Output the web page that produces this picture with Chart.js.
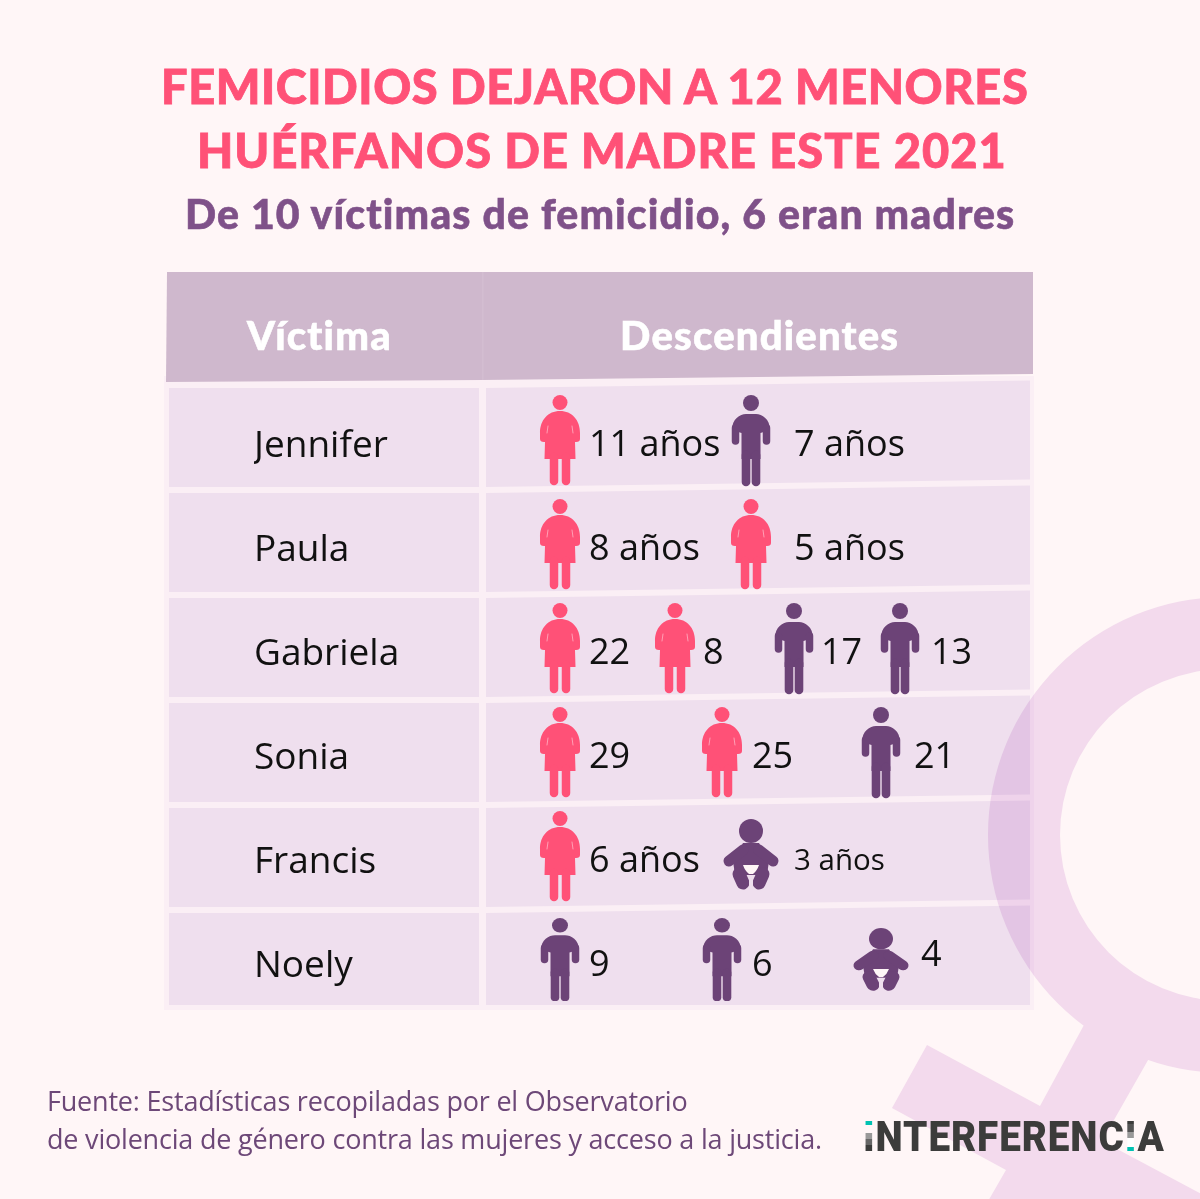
<!DOCTYPE html>
<html>
<head>
<meta charset="utf-8">
<script src="https://cdn.jsdelivr.net/npm/chart.js@4"></script>
<style>
body{margin:0;background:#fff6f7;}
#wrap{position:relative;width:1200px;height:1199px;overflow:hidden;}
canvas{position:absolute;left:0;top:0;}
.t{position:absolute;white-space:nowrap;line-height:1;}
.tit{font:900 47px Lato;color:#ff5177;-webkit-text-stroke:.8px #ff5177;}
.sub{font:900 41px Lato;color:#7f5189;left:185px;top:189px;letter-spacing:1.1px;-webkit-text-stroke:.6px #7f5189;}
.hd{font:900 40px Lato;color:#fff;top:311px;letter-spacing:1.2px;-webkit-text-stroke:.6px #fff;}
.src{font:27px "Open Sans";color:#6d4878;left:47px;letter-spacing:-.2px;}
.logo{font:900 42px Roboto;color:#3c3c3b;left:863px;top:1112px;letter-spacing:1px;transform-origin:left top;transform:scaleX(.92);}
.logo span{-webkit-background-clip:text;background-clip:text;color:transparent;}
.i1{background-image:linear-gradient(#00c2b2 0 26%,transparent 26% 42%,#999 42% 55%,#666 55% 68%,#3c3c3b 68%);}
.i2{background-image:linear-gradient(#3c3c3b 0 25%,#555 25% 40%,#999 40% 53%,#fff 53% 72%,#00c2b2 72%);}
</style>
</head>
<body>
<div id="wrap">
<canvas id="c" width="1200" height="1199"></canvas>
<div class="t tit" style="left:161px;top:58px;letter-spacing:.55px">FEMICIDIOS DEJARON A 12 MENORES</div>
<div class="t tit" style="left:197px;top:122px;letter-spacing:1px">HUÉRFANOS DE MADRE ESTE 2021</div>
<div class="t sub">De 10 víctimas de femicidio, 6 eran madres</div>
<div class="t hd" style="left:247px">Víctima</div>
<div class="t hd" style="left:620px">Descendientes</div>
<div class="t src" style="top:1082px">Fuente: Estadísticas recopiladas por el Observatorio</div>
<div class="t src" style="top:1120px">de violencia de género contra las mujeres y acceso a la justicia.</div>
<div class="t logo"><span class="i1">I</span>NTERFERENC<span class="i2">I</span>A</div>
</div>
<script>
// datos de la tabla
const victimas=['Jennifer','Paula','Gabriela','Sonia','Francis','Noely'];
const tipos=[['F','M'],['F','F'],['F','F','M','M'],['F','F','M'],['F','B'],['M','M','B']];
const edades=[[11,7],[8,5],[22,8,17,13],[29,25,21],[6,3],[9,6,4]];
const conAnos=[true,true,false,false,true,false];

// layout: separacion de columnas segun cuantos hijos hay en la fila
const slots={2:[0,191],3:[0,162,321],4:[0,115,234,340]};
const labelGap={2:[29,43],3:[29,30,33],4:[29,28,27,31]};
const ROSA='#ff5177', MORADO='#6c4377', CELDA='#efdfee', FONDO='#fff6f7';

function lienzo(w,h,sy,fn){
  const c=document.createElement('canvas'); c.width=w; c.height=h;
  const g=c.getContext('2d'); g.translate(w/2,0); g.scale(1,sy); fn(g); return c;
}
function palo(g,x1,y1,x2,y2,w){
  g.lineWidth=w; g.lineCap='round'; g.beginPath(); g.moveTo(x1,y1); g.lineTo(x2,y2); g.stroke();
}
function hija(g){
  g.fillStyle=g.strokeStyle=ROSA;
  g.beginPath(); g.arc(0,7.5,7.5,0,Math.PI*2); g.fill();
  g.beginPath(); g.moveTo(0,16);
  g.bezierCurveTo(12,16,20,25,20,38); g.lineTo(20,44); g.quadraticCurveTo(20,47,16,47); g.lineTo(15,47);
  g.lineTo(15.5,64); g.lineTo(-15.5,64); g.lineTo(-15,47); g.lineTo(-16,47);
  g.quadraticCurveTo(-20,47,-20,44); g.lineTo(-20,38); g.bezierCurveTo(-20,25,-12,16,0,16); g.fill();
  palo(g,-6,62,-6,86,8.5); palo(g,6,62,6,86,8.5);
  g.strokeStyle='#ffb3c4'; palo(g,-12,31,-13,38,.8); palo(g,12,31,13,38,.8);
}
function hijo(g){
  g.fillStyle=g.strokeStyle=MORADO;
  g.beginPath(); g.arc(0,8,8,0,Math.PI*2); g.fill();
  g.beginPath(); g.moveTo(-19,35); g.bezierCurveTo(-19,24,-11,19,-5,19); g.lineTo(5,19);
  g.bezierCurveTo(11,19,19,24,19,35); g.lineTo(9.5,38); g.lineTo(9.5,64); g.lineTo(-9.5,64); g.lineTo(-9.5,38); g.fill();
  palo(g,-15.5,33,-15.5,46,7.5); palo(g,15.5,33,15.5,46,7.5);
  palo(g,-5,60,-5,87,8.6); palo(g,5,60,5,87,8.6);
}
function bebe(g){
  g.fillStyle=g.strokeStyle=MORADO;
  g.beginPath(); g.arc(0,12,12,0,Math.PI*2); g.fill();
  g.beginPath(); g.moveTo(-8,24); g.lineTo(8,24); g.lineTo(18,42); g.lineTo(16,56); g.lineTo(-16,56); g.lineTo(-18,42); g.closePath(); g.fill();
  palo(g,-8,31,-22,42,11); palo(g,8,31,22,42,11);
  palo(g,-12,55,-8,64,13); palo(g,12,55,8,64,13);
  g.fillStyle=FONDO;
  g.beginPath(); g.moveTo(-8,46); g.lineTo(8,46); g.quadraticCurveTo(6,52,2,55); g.lineTo(-2,55); g.quadraticCurveTo(-6,52,-8,46); g.fill();
  g.fillStyle=CELDA;
  g.beginPath(); g.moveTo(-2,56); g.lineTo(2,56); g.lineTo(2,71); g.lineTo(-2,71); g.fill();
}
const iconos={
  F:lienzo(44,102,1,hija),
  M:lienzo(44,102,1,hijo),
  B:lienzo(60,86,1,bebe),
  // la ultima fila es mas baja, las figuras salen aplastadas
  Mc:lienzo(44,96,.91,hijo),
  Bc:lienzo(60,76,.89,bebe)
};
function iconoDe(t){
  return ctx=>(ctx.raw&&ctx.raw.r===5&&iconos[t+'c'])||iconos[t];
}

function puntos(tipo){
  const out=[];
  tipos.forEach((fila,r)=>fila.forEach((t,i)=>{
    if(t===tipo) out.push({x:slots[fila.length][i],y:victimas[r],r,i,edad:edades[r][i]});
  }));
  return out;
}

const fondoTabla={
  id:'fondoTabla',
  beforeDraw(chart){
    const g=chart.ctx, ys=chart.scales.y;
    g.save();
    g.fillStyle=FONDO; g.fillRect(0,0,1200,1199);
    g.fillStyle='#fbeff5'; g.fillRect(164,376,870,634);
    g.fillStyle='#cfb8cd';
    g.beginPath(); g.moveTo(167,272); g.lineTo(1033,272); g.lineTo(1033,374); g.lineTo(482,380); g.lineTo(166,382); g.fill();
    g.fillStyle='#d3bdd1'; g.fillRect(482,272,1.5,108);
    g.fillStyle=CELDA;
    victimas.forEach((v,i)=>{
      const c=ys.getPixelForTick(i), top=c-58+i, bot=i===5?1005:c+41+i;
      g.fillRect(169,top,310,bot-top);
      g.beginPath(); g.moveTo(486,top); g.lineTo(1030,top-7.5); g.lineTo(1030,i===5?bot:bot-7.5); g.lineTo(486,bot); g.fill();
    });
    // simbolo femenino detras de las marcas
    g.globalCompositeOperation='multiply';
    g.fillStyle='#f3e2f5';
    g.beginPath();
    g.arc(1226,835,238,0,Math.PI*2);
    g.moveTo(1226+166,835); g.arc(1226,835,166,0,Math.PI*2,true);
    g.moveTo(1160,1039);
    [[1102,1141],[1280,1236],[1280,1300],[960,1250],[1006,1170],[892,1108],[927,1045],[1040,1106],[1103,990]].forEach(p=>g.lineTo(p[0],p[1]));
    g.closePath(); g.fill();
    g.restore();
  }
};

const edadesTexto={
  id:'edadesTexto',
  afterDatasetsDraw(chart){
    const g=chart.ctx;
    g.save(); g.fillStyle='#111'; g.textBaseline='middle'; g.textAlign='left';
    chart.data.datasets.forEach((ds,d)=>{
      chart.getDatasetMeta(d).data.forEach((p,k)=>{
        const q=ds.data[k], n=tipos[q.r].length;
        const esCuatro=q.r===5&&q.i===2;
        g.font=(q.r===4&&q.i===1?'29.5':'36')+'px "Open Sans"';
        g.fillText(q.edad+(conAnos[q.r]?' años':''),p.x+labelGap[n][q.i]+(esCuatro?7:0),p.y+(esCuatro?-10:0));
      });
    });
    g.restore();
  }
};

new Chart(document.getElementById('c'),{
  type:'scatter',
  data:{datasets:[
    {label:'Hija',data:puntos('F'),pointStyle:iconoDe('F'),pointRadius:20},
    {label:'Hijo',data:puntos('M'),pointStyle:iconoDe('M'),pointRadius:20},
    {label:'Bebé',data:puntos('B'),pointStyle:iconoDe('B'),pointRadius:20}
  ]},
  options:{
    responsive:false,animation:false,
    layout:{padding:{left:254,right:170,top:394,bottom:181}},
    plugins:{legend:{display:false},tooltip:{enabled:false},title:{display:false}},
    scales:{
      x:{type:'linear',display:false,min:-74,max:470},
      y:{type:'category',labels:victimas,offset:true,
        grid:{display:false},border:{display:false},
        afterFit(s){s.width=232;},
        ticks:{crossAlign:'far',autoSkip:false,padding:0,color:'#111',font:{family:'Open Sans',size:37}}}
    }
  },
  plugins:[fondoTabla,edadesTexto]
});
</script>
</body>
</html>
